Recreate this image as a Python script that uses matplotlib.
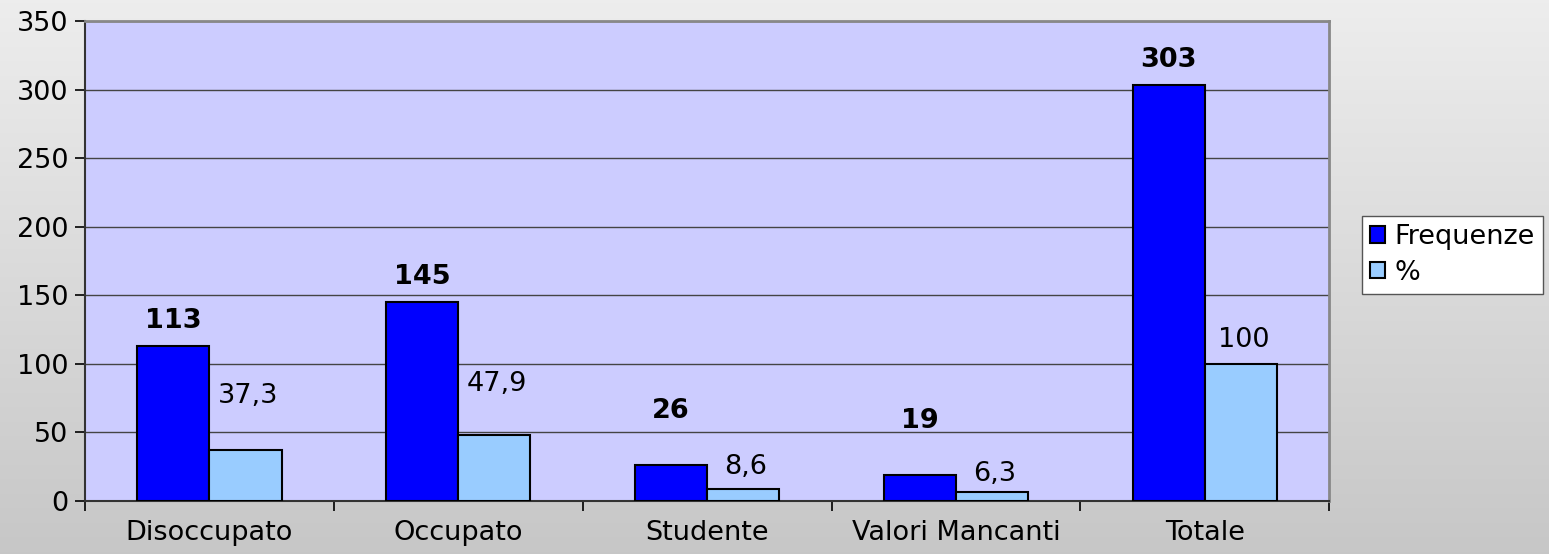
import numpy as np
import matplotlib
matplotlib.use("Agg")
import matplotlib.pyplot as plt

categories = ["Disoccupato", "Occupato", "Studente", "Valori Mancanti", "Totale"]
frequenze = [113, 145, 26, 19, 303]
percentuali = [37.3, 47.9, 8.6, 6.3, 100]
perc_labels = ["37,3", "47,9", "8,6", "6,3", "100"]
# label offsets above bars (points), as placed in the original
freq_offsets = [18, 18, 39, 39, 18]
perc_offsets = [39, 37, 16, 13, 17]

COLOR_FREQ = "#0000ff"
COLOR_PERC = "#99ccff"

plt.rcParams["font.family"] = ["DejaVu Sans"]
FS = 19.5

fig = plt.figure(figsize=(15.49, 5.54), dpi=100)

# grey gradient background
bg = fig.add_axes([0, 0, 1, 1], zorder=-10)
grad = np.linspace(0.93, 0.78, 256).reshape(-1, 1)
bg.imshow(np.dstack([grad, grad, grad]), aspect="auto", extent=[0, 1, 0, 1])
bg.axis("off")

ax = fig.add_axes([0.0549, 0.0957, 0.8032, 0.8663])
ax.set_facecolor("#ccccff")

x = np.arange(len(categories))
w = 0.29
b1 = ax.bar(x - w / 2, frequenze, w, color=COLOR_FREQ, edgecolor="black", linewidth=1.5,
            label="Frequenze", zorder=3)
b2 = ax.bar(x + w / 2, percentuali, w, color=COLOR_PERC, edgecolor="black", linewidth=1.5,
            label="%", zorder=3)

for rect, v, off in zip(b1, frequenze, freq_offsets):
    ax.annotate(str(v), (rect.get_x() + rect.get_width() / 2, rect.get_height()),
                xytext=(0, off), textcoords="offset points", ha="center", va="center",
                fontsize=FS, fontweight="bold")
for rect, lab, off in zip(b2, perc_labels, perc_offsets):
    ax.annotate(lab, (rect.get_x() + rect.get_width() / 2 + 0.01, rect.get_height()),
                xytext=(0, off), textcoords="offset points", ha="center", va="center",
                fontsize=FS)

ax.set_xlim(-0.5, len(categories) - 0.5)
ax.set_ylim(0, 350)
ax.set_yticks(np.arange(0, 351, 50))
ax.yaxis.grid(True, color="#444444", linewidth=1)
ax.set_axisbelow(True)
ax.tick_params(axis="y", labelsize=FS, length=7, width=1.2, pad=5)

ax.set_xticks(x)
ax.set_xticklabels(categories)
ax.set_xticks(np.arange(-0.5, len(categories), 1), minor=True)
ax.tick_params(axis="x", which="major", length=0, labelsize=FS, pad=14)
ax.tick_params(axis="x", which="minor", length=7, width=1.2)

for s in ["left", "bottom"]:
    ax.spines[s].set_color("#333333")
    ax.spines[s].set_linewidth(1.5)
for s in ["top", "right"]:
    ax.spines[s].set_color("#888888")
    ax.spines[s].set_linewidth(2)

leg = ax.legend(loc="upper left", bbox_to_anchor=(1.026, 0.594), fontsize=FS,
                frameon=True, fancybox=False, edgecolor="#555555", facecolor="white",
                framealpha=1, handlelength=0.55, handleheight=0.55, handletextpad=0.35,
                borderpad=0.3, labelspacing=0.35, borderaxespad=0)
leg.get_frame().set_linewidth(1)

fig.savefig("out.png", dpi=100)
